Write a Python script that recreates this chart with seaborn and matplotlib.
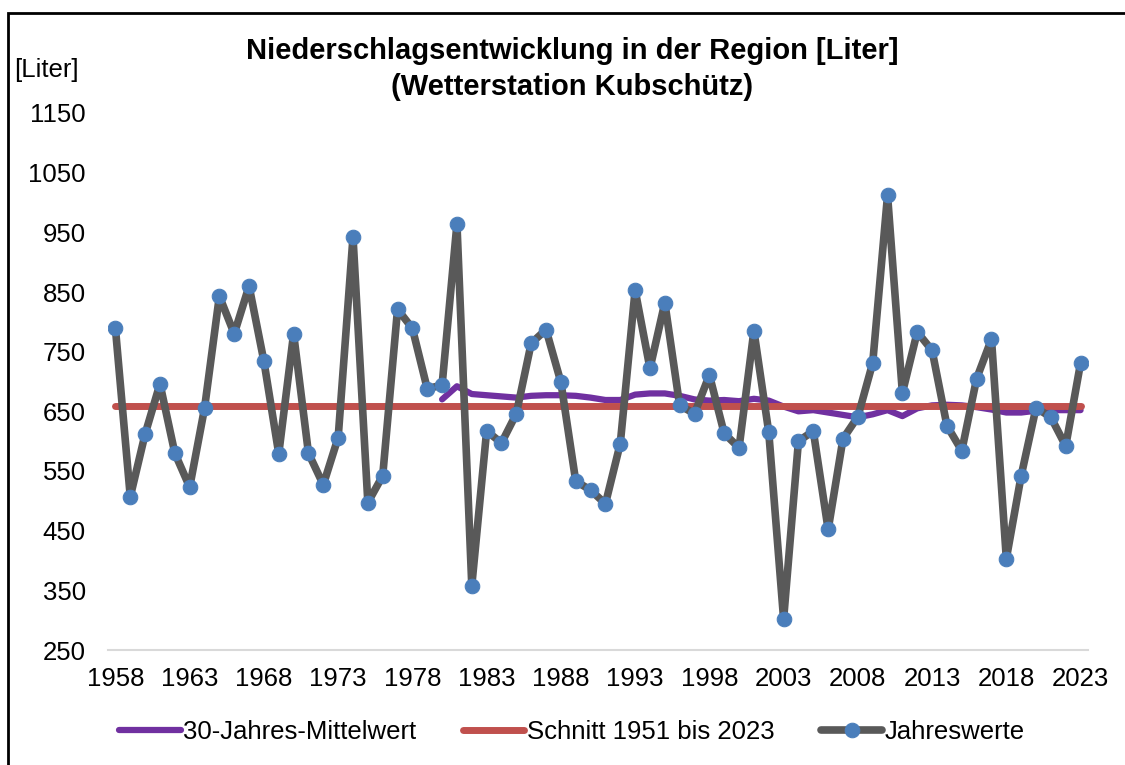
import matplotlib
matplotlib.use("Agg")
import matplotlib.pyplot as plt
import matplotlib.patches as patches
import seaborn as sns
import pandas as pd

# Jahreswerte Niederschlag [Liter], Wetterstation Kubschütz
years = list(range(1958, 2024))
jahreswerte = [789, 507, 612, 696, 580, 523, 655, 843, 780, 860,
               734, 579, 780, 580, 527, 606, 942, 497, 542, 821,
               789, 688, 694, 964, 358, 617, 597, 646, 764, 787,
               699, 533, 518, 495, 596, 853, 722, 832, 660, 646,
               711, 613, 589, 785, 615, 302, 600, 617, 452, 604,
               641, 731, 1012, 681, 783, 752, 626, 584, 705, 771,
               403, 542, 656, 640, 592, 731]

# 30-Jahres-Mittelwert, ab 1980
mittel_years = list(range(1980, 2024))
mittelwert = [670, 692, 679, 677, 675, 673, 676, 677, 677, 676,
              673, 669, 669, 678, 680, 680, 676, 670, 668, 669,
              667, 671, 668, 658, 650, 652, 648, 644, 640, 645,
              652, 642, 655, 660, 661, 660, 657, 653, 648, 648,
              651, 652, 652, 652]

# Schnitt 1951 bis 2023
schnitt = 659

df_jahr = pd.DataFrame({"Jahr": years, "Liter": jahreswerte})
df_mittel = pd.DataFrame({"Jahr": mittel_years, "Liter": mittelwert})
df_schnitt = pd.DataFrame({"Jahr": years, "Liter": [schnitt] * len(years)})

sns.set_theme(style="white")
plt.rcParams["font.family"] = ["Liberation Sans", "DejaVu Sans"]
plt.rcParams["text.color"] = "black"

fig = plt.figure(figsize=(11.25, 7.65), dpi=100)
ax = fig.add_axes([108 / 1125, 1 - 650 / 765, 980 / 1125, 537 / 765])

sns.lineplot(data=df_mittel, x="Jahr", y="Liter", ax=ax, color="#7030a0",
             linewidth=4.5, solid_capstyle="round", label="30-Jahres-Mittelwert", zorder=2)
sns.lineplot(data=df_schnitt, x="Jahr", y="Liter", ax=ax, color="#c0504d",
             linewidth=5, solid_capstyle="round", label="Schnitt 1951 bis 2023", zorder=3)
sns.lineplot(data=df_jahr, x="Jahr", y="Liter", ax=ax, color="#595959",
             linewidth=5.5, marker="o", markersize=10.5, markerfacecolor="#4a7ebb",
             markeredgecolor="#4a7ebb", label="Jahreswerte", zorder=4)

ax.set_xlim(1957.5, 2023.5)
ax.set_ylim(250, 1150)
ax.set_xticks(range(1958, 2024, 5))
ax.set_yticks(range(250, 1151, 100))
ax.tick_params(axis="both", length=0, labelsize=18.5, colors="black")
ax.tick_params(axis="y", pad=16)
ax.tick_params(axis="x", pad=12)
ax.set_xlabel("")
ax.set_ylabel("")
for side in ["top", "right", "left"]:
    ax.spines[side].set_visible(False)
ax.spines["bottom"].set_color("#d9d9d9")
ax.spines["bottom"].set_linewidth(1.5)

handles, labels = ax.get_legend_handles_labels()
ax.get_legend().remove()
fig.legend(handles, labels, loc="center", bbox_to_anchor=(572 / 1125, 1 - 732 / 765),
           ncol=3, frameon=False, fontsize=18.5, handlelength=2.4,
           handletextpad=0.1, columnspacing=1.8)

fig.text(572 / 1125, 1 - 69 / 765,
         "Niederschlagsentwicklung in der Region [Liter]\n(Wetterstation Kubschütz)",
         ha="center", va="center", fontsize=21, fontweight="bold", linespacing=1.35,
         color="black")
fig.text(14 / 1125, 1 - 70 / 765, "[Liter]", ha="left", va="center", fontsize=18.5,
         color="black")

fig.patches.append(patches.Rectangle((8 / 1125, -0.1), 1.2, 1.1 - 13 / 765,
                                     transform=fig.transFigure, fill=False,
                                     edgecolor="black", linewidth=2))

fig.savefig("out.png", dpi=100)
